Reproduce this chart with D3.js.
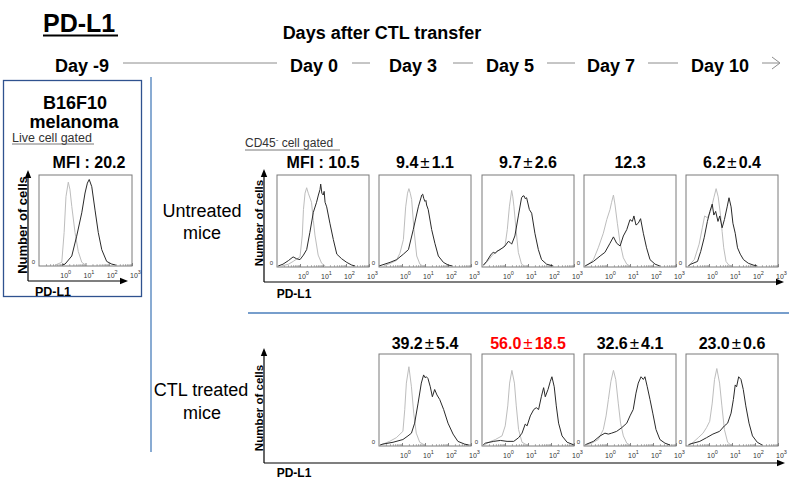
<!DOCTYPE html>
<html><head><meta charset="utf-8">
<script src="https://cdn.jsdelivr.net/npm/d3@7"></script>
<style>body{margin:0;background:#fff}svg{display:block;font-family:"Liberation Sans",Arial,sans-serif}</style>
</head><body><svg id="c" width="793" height="487"></svg>
<script>
// ---------- data ----------
const title = "PD-L1";
const headerText = "Days after CTL transfer";
const dayLabels = ["Day -9","Day 0","Day 3","Day 5","Day 7","Day 10"];
const untreatedLabels = ["MFI : 10.5","9.4±1.1","9.7±2.6","12.3","6.2±0.4"];
const ctlLabels = ["39.2±5.4","56.0±18.5","32.6±4.1","23.0±0.6"];
const ctlHighlight = [false,true,false,false];
const b16Label = "MFI : 20.2";
const tickExponents = [0,1,2,3];
// histograms: [log10(PD-L1), % of max panel height]
const b16Iso = [[-0.3,0],[-0.02,3],[0.08,36],[0.16,76],[0.26,92],[0.33,84],[0.41,65],[0.55,36],[0.69,15],[0.84,3],[1.0,0]];
const b16Stain = [[0.0,0],[0.12,1],[0.41,10],[0.62,32],[0.84,58],[0.98,80],[1.08,91],[1.16,95],[1.27,87],[1.41,61],[1.55,36],[1.7,17],[1.91,4],[2.13,1],[2.3,0]];
const u0Iso = [[-0.8,0],[-0.5,2],[-0.3,5],[0.0,10],[0.1,34],[0.15,62],[0.22,80],[0.29,86],[0.36,80],[0.5,70],[0.58,50],[0.65,34],[0.79,12],[0.94,3],[1.1,0]];
const u0Stain = [[-0.95,0],[-0.74,2],[-0.5,6],[-0.3,10],[-0.15,8],[0.0,7],[0.15,12],[0.29,18],[0.43,37],[0.58,59],[0.72,70],[0.8,78],[0.87,84],[0.9,90],[0.95,80],[1.01,78],[1.05,82],[1.09,70],[1.16,65],[1.3,47],[1.45,29],[1.6,13],[1.81,8],[2.03,4],[2.25,1],[2.4,0]];
const u3Iso = [[-0.8,0],[-0.5,3],[-0.25,6],[-0.09,14],[0.06,29],[0.16,65],[0.24,80],[0.3,85],[0.36,80],[0.42,73],[0.52,40],[0.64,11],[0.78,2],[0.9,0]];
const u3Stain = [[-1,0],[-0.52,4],[-0.23,7],[0.06,13],[0.28,18],[0.49,40],[0.71,65],[0.86,78],[0.9,79],[0.95,74],[1.0,71],[1.04,72],[1.07,67],[1.14,62],[1.29,40],[1.43,25],[1.58,11],[1.8,4],[2.01,1],[2.2,0]];
const u5Iso = [[-0.95,0],[-0.8,4],[-0.51,13],[-0.22,18],[0.0,22],[0.1,40],[0.19,65],[0.29,83],[0.34,76],[0.39,65],[0.48,40],[0.58,15],[0.72,2],[0.85,0]];
const u5Stain = [[-0.94,1],[-0.8,5],[-0.6,13],[-0.51,15],[-0.42,14],[-0.36,16],[-0.22,18],[-0.1,20],[0.0,22],[0.14,27],[0.22,26],[0.29,24],[0.43,33],[0.58,55],[0.72,75],[0.78,77],[0.83,77],[0.88,74],[0.94,75],[1.06,62],[1.16,58],[1.3,36],[1.45,18],[1.59,7],[1.81,2],[2.1,0]];
const u7Iso = [[-0.95,0],[-0.81,2],[-0.59,7],[-0.38,20],[-0.16,36],[-0.01,51],[0.13,62],[0.2,70],[0.28,78],[0.35,67],[0.45,47],[0.57,25],[0.71,9],[0.86,2],[1.0,0]];
const u7Stain = [[-0.95,0],[-0.88,1],[-0.59,5],[-0.3,11],[-0.09,15],[0.13,25],[0.28,32],[0.42,25],[0.57,22],[0.71,33],[0.86,40],[1.0,51],[1.1,49],[1.17,55],[1.26,45],[1.36,47],[1.46,52],[1.58,36],[1.72,20],[1.87,7],[2.09,2],[2.3,0]];
const u10Iso = [[-0.9,0],[-0.64,7],[-0.43,24],[-0.29,42],[-0.19,55],[-0.07,53],[0.07,60],[0.21,75],[0.31,85],[0.4,76],[0.5,56],[0.57,38],[0.64,20],[0.74,5],[0.86,1],[1.0,0]];
const u10Stain = [[-0.9,0],[-0.79,2],[-0.5,5],[-0.36,16],[-0.21,31],[-0.07,49],[0.04,60],[0.14,68],[0.21,56],[0.29,60],[0.39,49],[0.47,55],[0.57,42],[0.67,51],[0.79,65],[0.87,75],[0.96,65],[1.04,47],[1.14,36],[1.24,20],[1.36,13],[1.5,7],[1.71,3],[1.93,1],[2.1,0]];
const c3Iso = [[-0.95,0],[-0.83,1],[-0.54,4],[-0.25,8],[0.04,15],[0.12,39],[0.19,68],[0.3,86],[0.41,64],[0.51,35],[0.62,13],[0.77,3],[0.91,1],[1.0,0]];
const c3Stain = [[-0.95,0],[-0.83,1],[-0.39,3],[0.04,6],[0.26,10],[0.41,13],[0.55,24],[0.7,46],[0.84,68],[0.94,77],[1.0,74],[1.06,75],[1.13,73],[1.23,64],[1.32,53],[1.42,61],[1.52,55],[1.64,50],[1.81,39],[2.0,24],[2.22,12],[2.43,4],[2.72,1],[2.9,0]];
const c5Iso = [[-0.9,0],[-0.71,3],[-0.42,6],[-0.13,10],[0.01,21],[0.12,43],[0.2,68],[0.3,82],[0.41,68],[0.49,43],[0.59,17],[0.74,3],[0.88,1],[1.0,0]];
const c5Stain = [[-0.95,0],[-0.86,2],[-0.49,4],[-0.2,5],[0.09,4],[0.38,4],[0.59,8],[0.74,13],[0.88,23],[0.96,21],[1.1,32],[1.25,39],[1.36,41],[1.46,39],[1.58,53],[1.68,63],[1.75,53],[1.87,61],[1.97,70],[2.04,75],[2.14,64],[2.23,43],[2.33,24],[2.48,10],[2.7,3],[2.91,1],[3,0]];
const c7Iso = [[-0.9,0],[-0.67,2],[-0.38,6],[-0.16,17],[-0.04,32],[0.06,50],[0.17,70],[0.28,82],[0.38,72],[0.49,46],[0.59,24],[0.71,10],[0.86,2],[1.0,0]];
const c7Stain = [[-0.95,0],[-0.88,1],[-0.59,4],[-0.3,10],[-0.09,13],[0.06,12],[0.2,13],[0.42,15],[0.64,19],[0.86,24],[1.0,32],[1.14,39],[1.26,57],[1.36,68],[1.48,75],[1.58,72],[1.65,75],[1.75,64],[1.87,50],[1.99,35],[2.13,17],[2.3,6],[2.52,2],[2.74,0]];
const c10Iso = [[-0.85,0],[-0.69,3],[-0.47,8],[-0.26,13],[-0.11,19],[0.03,26],[0.14,46],[0.24,72],[0.34,84],[0.46,68],[0.56,43],[0.67,17],[0.81,3],[0.95,0]];
const c10Stain = [[-0.9,0],[-0.83,1],[-0.4,4],[-0.11,8],[0.17,12],[0.46,15],[0.67,21],[0.81,24],[0.96,35],[1.06,50],[1.14,66],[1.2,64],[1.29,75],[1.39,72],[1.49,61],[1.6,43],[1.74,24],[1.89,10],[2.1,3],[2.31,0]];

const untreatedIso = [u0Iso,u3Iso,u5Iso,u7Iso,u10Iso];
const untreatedStain = [u0Stain,u3Stain,u5Stain,u7Stain,u10Stain];
const ctlIso = [c3Iso,c5Iso,c7Iso,c10Iso];
const ctlStain = [c3Stain,c5Stain,c7Stain,c10Stain];

// ---------- layout ----------
const svg = d3.select("#c");
const BLUE = "#4a7ebb";
const dayCenters = [82,314,413,510,611,720];
const topX = [277,379,482,584,686];
const botX = [379,482,584,686];
const PW = 92, PH = 92;

function txt(x,y,s,o={}){
  const t = svg.append("text").attr("x",x).attr("y",y).text(s)
    .attr("font-size",o.size||12).attr("font-weight",o.bold?"bold":"normal")
    .attr("text-anchor",o.anchor||"start").attr("fill",o.fill||"#000");
  if(o.rotate) t.attr("transform",`rotate(-90,${x},${y})`);
  return t;
}
function arrowLine(x1,y1,x2,y2,w){
  svg.append("line").attr("x1",x1).attr("y1",y1).attr("x2",x2).attr("y2",y2)
    .attr("stroke","#000").attr("stroke-width",w||1.2);
  const a = Math.atan2(y2-y1,x2-x1), L=8, W=3.2;
  const px = x2 + L*Math.cos(a), py = y2 + L*Math.sin(a);
  const nx = -Math.sin(a), ny = Math.cos(a);
  svg.append("path").attr("d",`M${px},${py}L${x2+nx*W},${y2+ny*W}L${x2-nx*W},${y2-ny*W}Z`).attr("fill","#000");
}
function statLabel(cx,y,s,color){
  const t = svg.append("text").attr("x",cx).attr("y",y).attr("text-anchor","middle")
    .attr("font-size",16).attr("font-weight","bold").attr("fill",color);
  const parts = s.split("±");
  t.append("tspan").text(parts[0]);
  if(parts.length>1){
    t.append("tspan").attr("font-weight","normal").attr("font-size",17).attr("dx",2).text("±");
    t.append("tspan").attr("dx",2).text(parts[1]);
  }
}
function histPanel(x0,y0,w,h,iso,stain){
  const xs = d3.scaleLinear().domain([-1,3]).range([x0,x0+w]);
  const ys = d3.scaleLinear().domain([0,100]).range([y0+h-1,y0]);
  const g = svg.append("g");
  const minor=[]; for(let n=-1;n<3;n++) for(let k=2;k<10;k++) minor.push(n+Math.log10(k));
  g.append("g").attr("transform",`translate(0,${y0+h})`)
    .call(d3.axisBottom(xs).tickValues(minor).tickSize(-2).tickFormat(""))
    .call(a=>{a.select(".domain").remove();a.selectAll("line").attr("stroke","#888").attr("stroke-width",0.6);});
  g.append("g").attr("transform",`translate(0,${y0+h})`)
    .call(d3.axisBottom(xs).tickValues(tickExponents).tickSize(-3).tickFormat(""))
    .call(a=>{a.select(".domain").remove();a.selectAll("line").attr("stroke","#666").attr("stroke-width",0.8);});
  const line = d3.line().x(d=>xs(d[0])).y(d=>ys(d[1]));
  g.append("path").attr("d",line(iso)).attr("fill","none").attr("stroke","#bdbdbd").attr("stroke-width",1);
  g.append("path").attr("d",line(stain)).attr("fill","none").attr("stroke","#2a2a2a").attr("stroke-width",1);
  g.append("rect").attr("x",x0).attr("y",y0).attr("width",w).attr("height",h)
    .attr("fill","none").attr("stroke","#7a7a7a").attr("stroke-width",1);
  tickExponents.forEach(e=>{
    const t = g.append("text").attr("x",xs(e)-2).attr("y",y0+h+12).attr("font-size",7).attr("fill","#333");
    t.append("tspan").text("10");
    t.append("tspan").attr("dy",-4).attr("font-size",5.5).text(e);
  });
  g.append("text").attr("x",x0-4).attr("y",y0+h-2).attr("font-size",6).attr("text-anchor","end").attr("fill","#333").text("0");
}

// ---------- header ----------
txt(43,32,title,{size:25,bold:true});
svg.append("line").attr("x1",43).attr("x2",118).attr("y1",35.5).attr("y2",35.5).attr("stroke","#000").attr("stroke-width",2);
txt(382,39,headerText,{size:18,bold:true,anchor:"middle"});
dayLabels.forEach((d,i)=>txt(dayCenters[i],72,d,{size:18,bold:true,anchor:"middle"}));
const gaps = [[123,277],[352,370],[453,473],[547,575],[648,678],[762,779]];
gaps.forEach(g=>svg.append("line").attr("x1",g[0]).attr("x2",g[1]).attr("y1",63).attr("y2",63).attr("stroke","#8c8c8c").attr("stroke-width",1));
svg.append("path").attr("d","M772,57L780,63L772,69").attr("fill","none").attr("stroke","#8c8c8c").attr("stroke-width",1);

// ---------- left box ----------
svg.append("rect").attr("x",3.5).attr("y",80.5).attr("width",138).attr("height",216).attr("fill","none").attr("stroke","#2f528f").attr("stroke-width",1.3);
svg.append("line").attr("x1",151).attr("x2",151).attr("y1",77).attr("y2",452).attr("stroke",BLUE).attr("stroke-width",1.3);
txt(75,109,"B16F10",{size:18,bold:true,anchor:"middle"});
txt(74,128,"melanoma",{size:18,bold:true,anchor:"middle"});
txt(12,141.5,"Live cell gated",{size:12.5,fill:"#333"});
svg.append("line").attr("x1",12).attr("x2",94).attr("y1",144).attr("y2",144).attr("stroke","#555").attr("stroke-width",0.8);
txt(89,168,b16Label,{size:16,bold:true,anchor:"middle"});
histPanel(39,175,93,91,b16Iso,b16Stain);
arrowLine(28,281,28,178);
arrowLine(28,281,120,281);
txt(26.5,225,"Number of cells",{size:13,bold:true,anchor:"middle",rotate:true});
txt(53,296,"PD-L1",{size:12.5,bold:true,anchor:"middle"});

// ---------- row labels ----------
txt(202,217,"Untreated",{size:18,anchor:"middle"});
txt(202,239,"mice",{size:18,anchor:"middle"});
txt(201,396,"CTL treated",{size:18,anchor:"middle"});
txt(202,419,"mice",{size:18,anchor:"middle"});

// ---------- untreated row ----------
const cd = svg.append("text").attr("x",245).attr("y",147).attr("font-size",12).attr("fill","#333");
cd.append("tspan").text("CD45");
cd.append("tspan").attr("dy",-5).attr("font-size",8).text("-");
cd.append("tspan").attr("dy",5).text(" cell gated");
svg.append("line").attr("x1",245).attr("x2",340).attr("y1",150).attr("y2",150).attr("stroke","#555").attr("stroke-width",0.8);
topX.forEach((x,i)=>{
  histPanel(x,175,PW,PH,untreatedIso[i],untreatedStain[i]);
  statLabel(x+PW/2,168,untreatedLabels[i],"#000");
});
arrowLine(264,282,264,177);
arrowLine(264,282,776,282);
txt(262.5,223,"Number of cells",{size:11.5,bold:true,anchor:"middle",rotate:true});
txt(294,298,"PD-L1",{size:12,bold:true,anchor:"middle"});

// separator
svg.append("line").attr("x1",248).attr("x2",789).attr("y1",313).attr("y2",313).attr("stroke",BLUE).attr("stroke-width",1.5);

// ---------- CTL treated row ----------
botX.forEach((x,i)=>{
  histPanel(x,354,PW,PH,ctlIso[i],ctlStain[i]);
  statLabel(x+PW/2,349,ctlLabels[i],ctlHighlight[i]?"#ff0000":"#000");
});
arrowLine(264,463,264,356);
arrowLine(264,463,777,463);
txt(262.5,408,"Number of cells",{size:11.5,bold:true,anchor:"middle",rotate:true});
txt(294,477,"PD-L1",{size:12,bold:true,anchor:"middle"});
</script></body></html>
